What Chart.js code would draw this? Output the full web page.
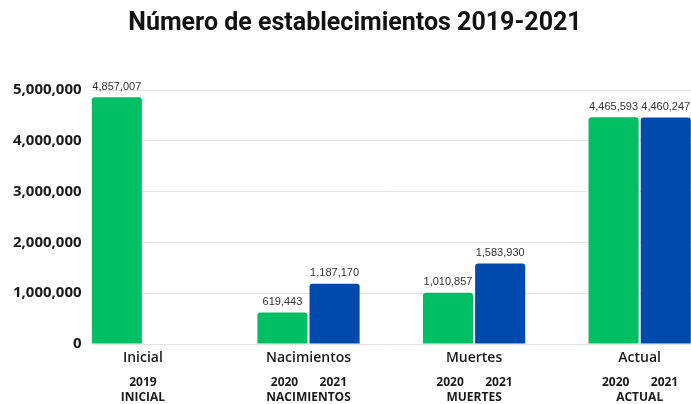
<!DOCTYPE html>
<html>
<head>
<meta charset="utf-8">
<script src="https://cdn.jsdelivr.net/npm/chart.js@4.4.1/dist/chart.umd.min.js"></script>
<style>
html,body{margin:0;padding:0;background:#fff;}
#wrap{width:691px;height:404px;position:relative;}
</style>
</head>
<body>
<div id="wrap"><canvas id="c"></canvas></div>
<script>
const titleText = "Número de establecimientos 2019-2021";
const categories = ["Inicial", "Nacimientos", "Muertes", "Actual"];
const subLabels = ["INICIAL", "NACIMIENTOS", "MUERTES", "ACTUAL"];
const series2020 = [4857007, 619443, 1010857, 4465593];   // green (2019 for Inicial)
const series2021 = [null, 1187170, 1583930, 4460247];     // blue
const yearLabels = [["2019"], ["2020", "2021"], ["2020", "2021"], ["2020", "2021"]];
const yTicks = [0, 1000000, 2000000, 3000000, 4000000, 5000000];

const GREEN = "#00BF63";
const BLUE = "#004AAD";
const fmt = v => v.toLocaleString("en-US");

const catIdx = categories.map((_, i) => i);
const greenData = catIdx.map(i => ({x: i, y: series2020[i]}));
const blueData = catIdx.map(i => ({x: i, y: series2021[i]}));

// year tick positions: centered for a single label, under each bar for pairs
const yearTickDefs = [];
yearLabels.forEach((arr, i) => {
  if (arr.length === 1) yearTickDefs.push({value: i, label: arr[0]});
  else { yearTickDefs.push({value: i - 0.145, label: arr[0]}); yearTickDefs.push({value: i + 0.15, label: arr[1]}); }
});

const valueLabels = {
  id: "valueLabels",
  afterDatasetsDraw(chart) {
    const ctx = chart.ctx;
    ctx.save();
    ctx.font = "11px 'Liberation Sans', Arial, sans-serif";
    ctx.fillStyle = "#333";
    ctx.textAlign = "center";
    ctx.textBaseline = "bottom";
    chart.data.datasets.forEach((ds, di) => {
      const meta = chart.getDatasetMeta(di);
      meta.data.forEach((bar, i) => {
        const v = ds.data[i].y;
        if (v === null || v === undefined) return;
        ctx.fillText(fmt(v), bar.x, bar.y - 5);
      });
    });
    ctx.restore();
  }
};

const titleDraw = {
  id: "titleDraw",
  afterDraw(chart) {
    const ctx = chart.ctx;
    ctx.save();
    ctx.font = "bold 25px Roboto, 'Liberation Sans', sans-serif";
    ctx.fillStyle = "#111";
    ctx.textAlign = "center";
    ctx.textBaseline = "middle";
    ctx.fillText(titleText, 355, 24);
    ctx.restore();
  }
};

const XMIN = -0.31, XMAX = 3.31;

new Chart(document.getElementById("c"), {
  type: "bar",
  data: {
    datasets: [
      {label: "2020", data: greenData, backgroundColor: GREEN, borderRadius: 3, borderSkipped: "start",
       categoryPercentage: 0.63, barPercentage: 0.96},
      {label: "2021", data: blueData, backgroundColor: BLUE, borderRadius: 3, borderSkipped: "start",
       categoryPercentage: 0.63, barPercentage: 0.96}
    ]
  },
  options: {
    responsive: true,
    maintainAspectRatio: false,
    animation: false,
    layout: {padding: {left: 3, right: 0, top: 90, bottom: 0}},
    plugins: {
      legend: {display: false},
      tooltip: {enabled: false},
      title: {display: false}
    },
    scales: {
      x: {
        type: "linear", min: XMIN, max: XMAX, offset: false, position: "bottom", weight: 1,
        afterBuildTicks: s => { s.ticks = catIdx.map(i => ({value: i})); },
        ticks: {
          autoSkip: false, maxRotation: 0, padding: 6, color: "#1a1a1a",
          font: {family: "'Open Sans', sans-serif", size: 14, weight: "600"},
          callback: v => categories[Math.round(v)]
        },
        grid: {display: false, drawTicks: false, offset: false},
        border: {display: false}
      },
      xYears: {
        type: "linear", min: XMIN, max: XMAX, offset: false, position: "bottom", weight: 2,
        afterBuildTicks: s => { s.ticks = yearTickDefs.map(t => ({value: t.value})); },
        ticks: {
          autoSkip: false, maxRotation: 0, padding: 3, color: "#1a1a1a",
          font: {family: "'Open Sans', sans-serif", size: 12, weight: "bold", lineHeight: 1.1},
          callback: (v, idx) => yearTickDefs[idx].label
        },
        grid: {display: false, drawTicks: false},
        border: {display: false}
      },
      xSub: {
        type: "linear", min: XMIN, max: XMAX, offset: false, position: "bottom", weight: 3,
        afterBuildTicks: s => { s.ticks = catIdx.map(i => ({value: i})); },
        ticks: {
          autoSkip: false, maxRotation: 0, padding: 0, color: "#1a1a1a",
          font: {family: "'Open Sans', sans-serif", size: 12, weight: "bold", lineHeight: 1.0},
          callback: v => subLabels[Math.round(v)]
        },
        grid: {display: false, drawTicks: false},
        border: {display: false}
      },
      y: {
        min: 0, max: 5000000,
        afterBuildTicks: s => { s.ticks = yTicks.map(v => ({value: v})); },
        ticks: {
          padding: 10, color: "#1a1a1a",
          font: {family: "'Open Sans', sans-serif", size: 15, weight: "bold"},
          callback: v => fmt(v)
        },
        grid: {color: "#e3e3e3", drawTicks: false, lineWidth: 1},
        border: {display: false}
      }
    }
  },
  plugins: [valueLabels, titleDraw]
});
</script>
</body>
</html>
